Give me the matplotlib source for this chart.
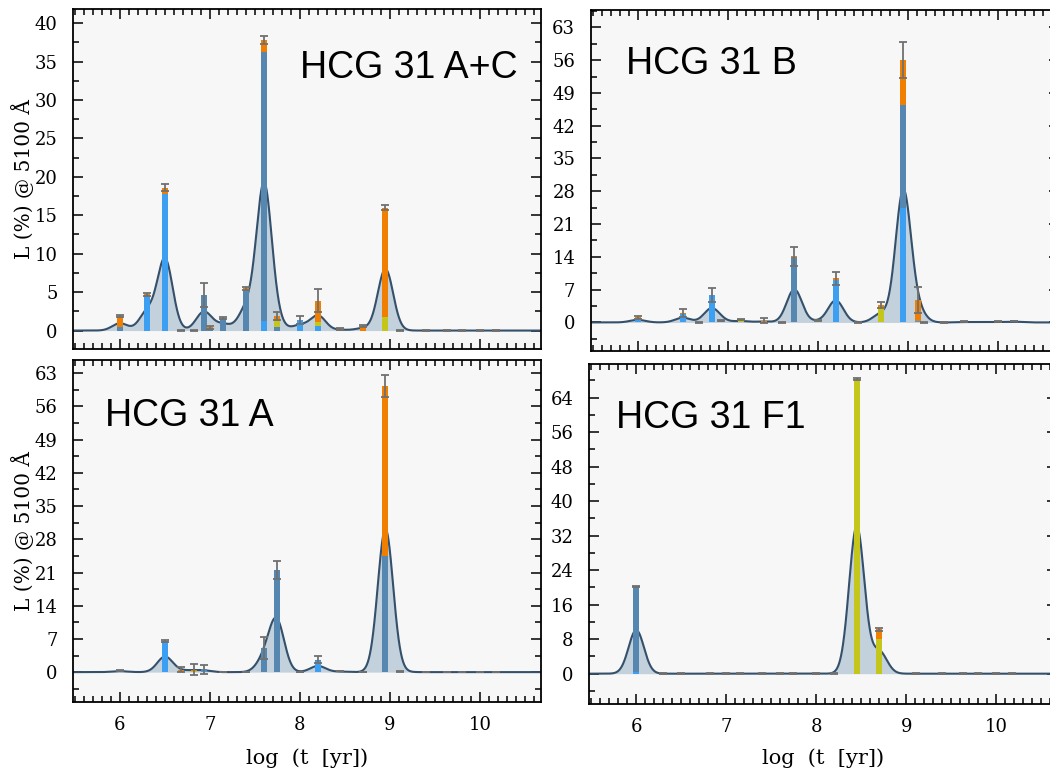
import numpy as np
import matplotlib
matplotlib.use("Agg")
import matplotlib.pyplot as plt
from matplotlib.ticker import MultipleLocator

# shared base of log ages (log t [yr])
AGES = [6.00, 6.30, 6.50, 6.68, 6.82, 6.93, 7.00, 7.15, 7.40, 7.60, 7.74, 8.00,
        8.20, 8.45, 8.70, 8.95, 9.11, 9.18, 9.40, 9.63, 9.80, 10.00, 10.18]

# ---- HCG 31 A+C ----
AC_BRIGHT = [0, 4.6, 17.8, 0, 0, 0, 0, 0, 0, 1.2, 0, 1.4, 0.65, 0, 0, 0, 0, 0, 0, 0, 0, 0, 0]
AC_STEEL = [0.5, 0, 0, 0.05, 0.05, 4.6, 0.2, 1.6, 5.3, 35.1, 0.5, 0, 0, 0.1, 0, 0, 0.03, 0, 0, 0, 0, 0, 0]
AC_YELLOW = [0, 0, 0, 0, 0, 0, 0, 0, 0, 0, 0.8, 0, 0.45, 0, 0, 1.7, 0, 0, 0, 0, 0, 0, 0]
AC_ORANGE = [1.4, 0.15, 0.8, 0, 0, 0, 0.2, 0, 0.2, 1.5, 0.6, 0, 2.8, 0.1, 0.6, 14.3, 0, 0, 0, 0, 0, 0, 0]
AC_ERR = [0.15, 0.2, 0.5, 0.05, 0.05, 1.6, 0.2, 0.1, 0.2, 0.5, 0.5, 0.5, 1.5, 0.1, 0.15, 0.3, 0.05, 0, 0.05, 0.05, 0.05, 0.05, 0.05]

# ---- HCG 31 B ----
B_BRIGHT = [0.8, 0, 1.8, 0, 5.9, 0, 0, 0, 0, 0, 0, 0, 9.1, 0, 0, 24.4, 0.3, 0, 0, 0, 0, 0, 0]
B_STEEL = [0, 0, 0, 0, 0, 0.5, 0, 0, 0, 0, 14.0, 0, 0, 0, 0, 22.0, 0, 0, 0, 0.15, 0.1, 0.15, 0.3]
B_YELLOW = [0, 0, 0, 0, 0, 0, 0, 0.6, 0, 0, 0, 0.5, 0, 0, 3.4, 0, 0, 0, 0, 0, 0, 0, 0]
B_ORANGE = [0.3, 0, 0.2, 0, 0, 0, 0, 0, 0.4, 0, 0.1, 0, 0.3, 0, 0.3, 9.6, 4.5, 0, 0, 0, 0, 0, 0]
B_ERR = [0.3, 0, 0.9, 0.05, 1.5, 0.1, 0, 0.1, 0.6, 0.05, 2.1, 0.1, 1.4, 0.05, 0.7, 3.8, 2.7, 0.05, 0.05, 0.05, 0, 0.05, 0.05]

# ---- HCG 31 A ----
A_BRIGHT = [0.4, 0, 6.2, 0, 0, 0.3, 0, 0, 0, 0, 0, 0, 2.3, 0, 0, 0, 0, 0, 0, 0, 0, 0, 0]
A_STEEL = [0, 0, 0.3, 0, 0, 0.3, 0, 0, 0, 5.0, 21.6, 0, 0.3, 0, 0, 24.4, 0.2, 0, 0, 0, 0, 0, 0]
A_YELLOW = [0, 0, 0, 0.3, 0.2, 0, 0, 0, 0, 0, 0, 0, 0, 0.2, 0, 0, 0, 0, 0, 0, 0, 0, 0]
A_ORANGE = [0, 0, 0, 0.2, 0.3, 0, 0, 0, 0, 0, 0, 0, 0, 0, 0, 35.9, 0, 0, 0, 0, 0, 0, 0]
A_ERR = [0.1, 0, 0.2, 0.5, 1.2, 0.9, 0, 0.05, 0.05, 2.3, 1.9, 0.05, 0.7, 0.05, 0.05, 2.4, 0.1, 0, 0.05, 0.05, 0.05, 0.05, 0.05]

# ---- HCG 31 F1 ----
F_BRIGHT = [0.3, 0, 0, 0, 0, 0, 0, 0, 0, 0, 0, 0, 0, 0, 0, 0, 0, 0, 0, 0, 0, 0, 0]
F_STEEL = [19.9, 0, 0, 0, 0, 0, 0, 0, 0, 0, 0, 0, 0, 0, 0, 0, 0, 0, 0, 0, 0, 0, 0]
F_YELLOW = [0, 0, 0, 0, 0, 0, 0, 0, 0, 0, 0, 0, 0, 68.3, 8.1, 0, 0, 0, 0, 0, 0, 0, 0]
F_ORANGE = [0, 0, 0, 0, 0, 0, 0, 0, 0, 0, 0, 0, 0, 0, 2.15, 0, 0, 0, 0, 0, 0, 0, 0]
F_ERR = [0.15, 0.05, 0.05, 0, 0.05, 0, 0.05, 0.05, 0.05, 0.05, 0.05, 0.05, 0.05, 0.3, 0.3, 0, 0.05, 0, 0.05, 0.05, 0.05, 0.05, 0.05]

PANEL_NAMES = ["HCG 31 A+C", "HCG 31 B", "HCG 31 A", "HCG 31 F1"]
X_LABEL = "log  (t  [yr])"
Y_LABEL = "L (%) @ 5100 Å"

C_BRIGHT = "#3d9ff2"
C_STEEL = "#5687b0"
C_YELLOW = "#c4c61c"
C_ORANGE = "#f07e00"
C_FILL = "#c3d1dd"
C_LINE = "#34506b"
C_ERR = "#707070"
BG = "#f7f7f7"

W, H = 1050, 780
fig = plt.figure(figsize=(W / 100, H / 100), dpi=100)
fig.patch.set_facecolor("white")

def rect(left, top, right, bottom):
    return [left / W, 1 - bottom / H, (right - left) / W, (bottom - top) / H]

panels = [
    dict(rect=rect(72.7, 9.3, 540.7, 349), comps=(AC_BRIGHT, AC_STEEL, AC_YELLOW, AC_ORANGE), err=AC_ERR,
         ylim=(-2.4, 41.8), major=5, minor=2.5, name=PANEL_NAMES[0], txt=(300, 77.6), xlab=False, ylab=True),
    dict(rect=rect(590.5, 10, 1058.5, 351), comps=(B_BRIGHT, B_STEEL, B_YELLOW, B_ORANGE), err=B_ERR,
         ylim=(-6.1, 66.7), major=7, minor=3.5, name=PANEL_NAMES[1], txt=(626, 74), xlab=False, ylab=False),
    dict(rect=rect(72.7, 360, 540.7, 702), comps=(A_BRIGHT, A_STEEL, A_YELLOW, A_ORANGE), err=A_ERR,
         ylim=(-6.3, 65.8), major=7, minor=3.5, name=PANEL_NAMES[2], txt=(105, 426), xlab=True, ylab=True),
    dict(rect=rect(589, 364, 1057, 704.3), comps=(F_BRIGHT, F_STEEL, F_YELLOW, F_ORANGE), err=F_ERR,
         ylim=(-7.1, 71.8), major=8, minor=4, name=PANEL_NAMES[3], txt=(616, 428), xlab=True, ylab=False),
]

ages = np.array(AGES)
xs = np.linspace(5.3, 10.9, 2000)
sigma = 0.085
bw = 0.066
colors = (C_BRIGHT, C_STEEL, C_YELLOW, C_ORANGE)

for p in panels:
    ax = fig.add_axes(p["rect"])
    ax.set_facecolor(BG)
    comps = [np.array(c, dtype=float) for c in p["comps"]]
    total = sum(comps)
    # smoothed curve from bar values
    curve = 0.5 * (total[:, None] * np.exp(-(xs[None, :] - ages[:, None]) ** 2 / (2 * sigma ** 2))).sum(axis=0)
    ax.fill_between(xs, 0, curve, color=C_FILL, lw=0, zorder=1)
    ax.plot(xs, curve, color=C_LINE, lw=1.5, zorder=2)
    bottom = np.zeros_like(total)
    for comp, col in zip(comps, colors):
        m = comp > 0
        ax.bar(ages[m], comp[m], width=bw, bottom=bottom[m], color=col, lw=0, zorder=3)
        bottom = bottom + comp
    err = np.array(p["err"], dtype=float)
    m = err > 0
    ax.errorbar(ages[m], total[m], yerr=err[m], fmt="none", ecolor=C_ERR, elinewidth=1.3,
                capsize=3.2, capthick=1.3, zorder=4)
    ax.set_xlim(5.475, 10.675)
    ax.set_ylim(*p["ylim"])
    ax.xaxis.set_major_locator(MultipleLocator(1))
    ax.xaxis.set_minor_locator(MultipleLocator(0.1))
    ax.yaxis.set_major_locator(MultipleLocator(p["major"]))
    ax.yaxis.set_minor_locator(MultipleLocator(p["minor"]))
    ax.tick_params(which="both", direction="in", top=True, right=True, width=1.1, colors="black")
    ax.tick_params(which="major", length=7.5)
    ax.tick_params(which="minor", length=4.3)
    ax.tick_params(axis="y", which="major", pad=11, labelsize=13)
    ax.tick_params(axis="x", which="major", pad=10, labelsize=13)
    for lab in ax.get_yticklabels() + ax.get_xticklabels():
        lab.set_fontfamily("DejaVu Serif")
    if not p["xlab"]:
        ax.tick_params(axis="x", labelbottom=False)
    for s in ax.spines.values():
        s.set_linewidth(1.3)
        s.set_color("black")
    fig.text(p["txt"][0] / W, 1 - p["txt"][1] / H, p["name"], fontsize=27,
             family="Liberation Sans", ha="left", va="baseline")
    r = p["rect"]
    if p["xlab"]:
        fig.text(r[0] + 468 / W / 2, 1 - 758 / H, X_LABEL, fontsize=15, family="DejaVu Serif",
                 ha="center", va="center")
    if p["ylab"]:
        fig.text(23 / W, r[1] + r[3] / 2, Y_LABEL, fontsize=14.5, family="DejaVu Serif",
                 rotation=90, ha="center", va="center")

fig.savefig("out.png", dpi=100, facecolor="white")
